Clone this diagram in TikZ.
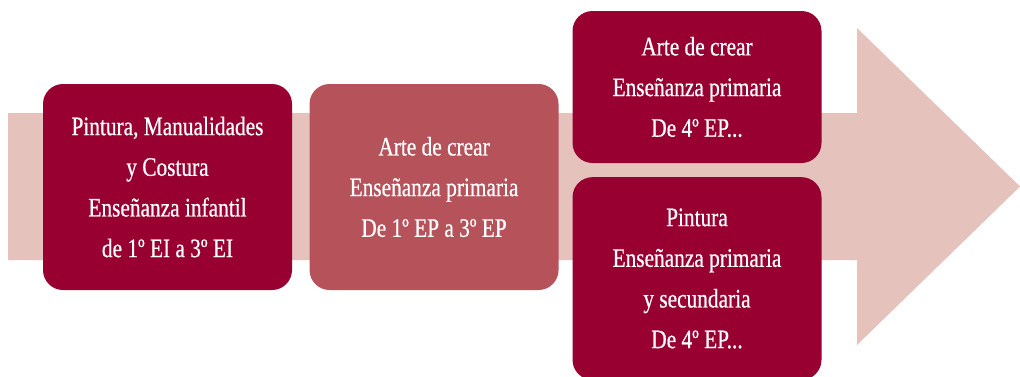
\documentclass[tikz,border=0pt]{standalone}
\usepackage{fontspec}
\setmainfont{Liberation Serif}[FakeStretch=0.8, FakeBold=0.6]
\usepackage{tikz}
\usetikzlibrary{positioning}
\definecolor{granate}{RGB}{151,0,48}
\definecolor{rosado}{RGB}{181,82,90}
\definecolor{flecha}{RGB}{229,195,188}

\begin{document}
\begin{tikzpicture}[x = 0.75pt, y = 0.75pt,
    every node/.style = { align = center, text = white, rounded corners = 15pt,
                          font = \fontsize{20}{30.5}\selectfont, inner sep = 0pt },
    etapa/.style = { fill = granate, minimum width = 186.75pt }]
    \useasboundingbox (0,0) rectangle (1020,376);
    \fill [flecha] (8,116) -- (857,116) -- (857,31) -- (1020,189.5)
        -- (857,348) -- (857,263) -- (8,263) -- cycle;
    \node [etapa, minimum height = 154.5pt] (infantil) at (167.5,189)
        { Pintura, Manualidades \\ y Costura \\ Enseñanza infantil \\ de 1º EI a 3º EI };
    \node [etapa, fill = rosado, minimum height = 154.5pt, right = 12.75pt of infantil] (primaria)
        { Arte de crear \\ Enseñanza primaria \\ De 1º EP a 3º EP };
    \node [etapa, minimum height = 114pt] (crear) at (697,289)
        { Arte de crear \\ Enseñanza primaria \\ De 4º EP... };
    \node [etapa, minimum height = 152pt] (pintura) at (697,97.5)
        { Pintura \\ Enseñanza primaria \\ y secundaria \\ De 4º EP... };
\end{tikzpicture}
\end{document}
